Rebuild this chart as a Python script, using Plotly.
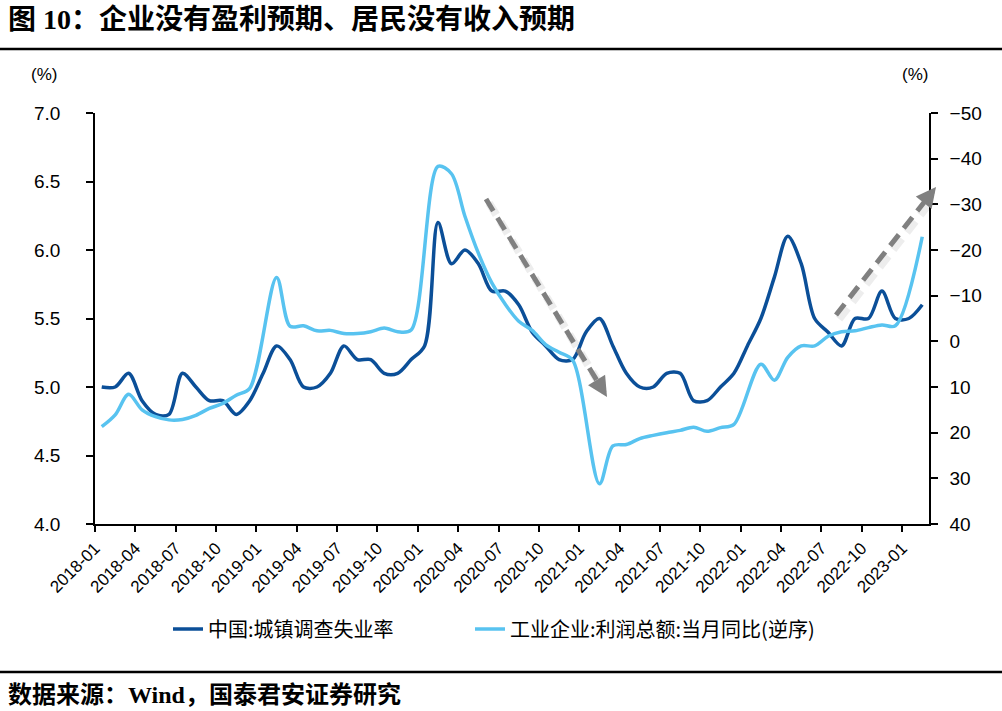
import plotly.graph_objects as go

# ---------------- data ----------------
months = [f"{y}-{m:02d}" for y in range(2018, 2024) for m in range(1, 13)][:62]  # 2018-01 .. 2023-02

unemployment = [
    5.0, 5.0, 5.1, 4.9, 4.8, 4.8, 5.1, 5.0, 4.9, 4.9, 4.8, 4.9,
    5.1, 5.3, 5.2, 5.0, 5.0, 5.1, 5.3, 5.2, 5.2, 5.1, 5.1, 5.2,
    5.3, 6.2, 5.9, 6.0, 5.9, 5.7, 5.7, 5.6, 5.4, 5.3, 5.2, 5.2,
    5.4, 5.5, 5.3, 5.1, 5.0, 5.0, 5.1, 5.1, 4.9, 4.9, 5.0, 5.1,
    5.3, 5.5, 5.8, 6.1, 5.9, 5.5, 5.4, 5.3, 5.5, 5.5, 5.7, 5.5,
    5.5, 5.6,
]

profit_yoy = [
    18.7, 16.1, 11.6, 15.0, 16.5, 17.2, 17.1, 16.2, 14.7, 13.6, 11.8, 10.3,
    None, -14.0, -3.3, -3.4, -2.3, -2.4, -1.7, -1.7, -2.1, -2.9, -2.1, -2.5,
    None, -38.3, -36.7, -27.4, -19.3, -12.8, -8.1, -4.4, -2.4, 0.7, 2.4, 4.1,
    None, 31.2, 22.9, 22.6, 21.3, 20.6, 20.0, 19.5, 18.8, 19.7, 18.9, 18.2,
    None, 5.0, 8.5, 3.5, 1.0, 1.0, -1.1, -2.1, -2.3, -3.0, -3.6, -3.4,
    None, -22.9,
]

tick_labels = months[::3]

name1 = "中国:城镇调查失业率"
name2 = "工业企业:利润总额:当月同比(逆序)"
title_text = "图 10：企业没有盈利预期、居民没有收入预期"
source_text = "数据来源：Wind，国泰君安证券研究"

DARK = "#0b4f98"
LIGHT = "#58c3f0"

# ---------------- figure ----------------
x_centers = [i + 0.5 for i in range(len(months))]
tick_pos = list(range(0, len(months), 3))

fig = go.Figure()
fig.add_trace(go.Scatter(
    x=x_centers, y=unemployment, name=name1, mode="lines",
    line=dict(color=DARK, width=3.5, shape="spline", smoothing=0.9),
    yaxis="y", legend="legend",
))
fig.add_trace(go.Scatter(
    x=x_centers, y=profit_yoy, name=name2, mode="lines",
    line=dict(color=LIGHT, width=3.5, shape="spline", smoothing=0.9),
    connectgaps=True, yaxis="y2", legend="legend2",
))

# plot area in px: x 95..929, y 113..524
L, R, T, B = 95, 929, 113, 524
W, H = R - L, B - T


def px(xp):
    return (xp - L) / W


def py(yp):
    return (B - yp) / H


CJK = "Noto Sans CJK SC"
SERIF_CJK = "Liberation Serif, Noto Sans CJK SC"
NUM = "Liberation Sans, Arial, sans-serif"

annotations = [
    dict(text=f"<b>{title_text}</b>", xref="paper", yref="paper", x=px(6), y=py(19),
         xanchor="left", yanchor="middle", showarrow=False,
         font=dict(family=SERIF_CJK, size=28, color="black")),
    dict(text=f"<b>{source_text}</b>", xref="paper", yref="paper", x=px(6), y=py(695),
         xanchor="left", yanchor="middle", showarrow=False,
         font=dict(family=SERIF_CJK, size=24, color="black")),
    dict(text="(%)", xref="paper", yref="paper", x=px(44), y=py(75),
         xanchor="center", yanchor="middle", showarrow=False,
         font=dict(family=NUM, size=17, color="black")),
    dict(text="(%)", xref="paper", yref="paper", x=px(915), y=py(75),
         xanchor="center", yanchor="middle", showarrow=False,
         font=dict(family=NUM, size=17, color="black")),
]

shapes = [
    dict(type="line", xref="paper", yref="paper", x0=px(0), x1=px(1002), y0=py(49), y1=py(49),
         line=dict(color="black", width=2.5)),
    dict(type="line", xref="paper", yref="paper", x0=px(0), x1=px(1002), y0=py(672), y1=py(672),
         line=dict(color="black", width=2.5)),
]

# trend arrows (dashed gray with soft shadow)
arrows = [((486, 199), (607, 397)), ((836, 315), (936, 187))]
for (x0, y0), (x1, y1) in arrows:
    dx, dy = x1 - x0, y1 - y0
    ln = (dx * dx + dy * dy) ** 0.5
    ux, uy = dx / ln, dy / ln
    ex, ey = x1 - ux * 12, y1 - uy * 12
    # shadow
    shapes.append(dict(type="line", xref="paper", yref="paper",
                       x0=px(x0 + 3), y0=py(y0 + 4), x1=px(ex + 3), y1=py(ey + 4),
                       line=dict(color="rgba(0,0,0,0.07)", width=8, dash="14px,8px")))
    shapes.append(dict(type="line", xref="paper", yref="paper",
                       x0=px(x0), y0=py(y0), x1=px(ex), y1=py(ey),
                       line=dict(color="#808080", width=5, dash="14px,8px")))
    annotations.append(dict(text="", xref="paper", yref="paper", x=px(x1), y=py(y1),
                            ax=-ux * 14, ay=-uy * 14, axref="pixel", ayref="pixel",
                            showarrow=True, arrowhead=2, arrowsize=0.8, arrowwidth=5,
                            arrowcolor="#808080"))

legend_style = dict(orientation="h", yanchor="middle", y=py(629), xanchor="left",
                    font=dict(family=CJK, size=20, color="black"), bgcolor="rgba(0,0,0,0)")

fig.update_layout(
    width=1002, height=711, autosize=False,
    margin=dict(l=L, r=1002 - R, t=T, b=711 - B),
    paper_bgcolor="white", plot_bgcolor="white",
    showlegend=True,
    legend=dict(legend_style, x=px(168)),
    legend2=dict(legend_style, x=px(470)),
    xaxis=dict(range=[0, len(months)], tickmode="array", tickvals=tick_pos, ticktext=tick_labels,
               tickangle=-45, ticks="outside", ticklen=6, tickwidth=1.5, tickcolor="black",
               showline=True, linecolor="black", linewidth=1.5, showgrid=False, zeroline=False,
               tickfont=dict(family=NUM, size=17, color="black")),
    yaxis=dict(range=[4, 7], dtick=0.5, tickformat=".1f", ticks="outside", ticklen=7,
               tickwidth=1.5, tickcolor="black", showline=True, linecolor="black", linewidth=1.5,
               showgrid=False, zeroline=False, ticklabelstandoff=22,
               tickfont=dict(family=NUM, size=19, color="black")),
    yaxis2=dict(range=[40, -50], dtick=10, overlaying="y", side="right", ticks="outside",
                ticklen=7, tickwidth=1.5, tickcolor="black", showline=True, linecolor="black",
                linewidth=1.5, showgrid=False, zeroline=False, ticklabelstandoff=8,
                tickfont=dict(family=NUM, size=19, color="black")),
    annotations=annotations,
    shapes=shapes,
)

fig.write_html("out.html", config={"displayModeBar": False},
               post_script="document.body.style.margin='0';")
